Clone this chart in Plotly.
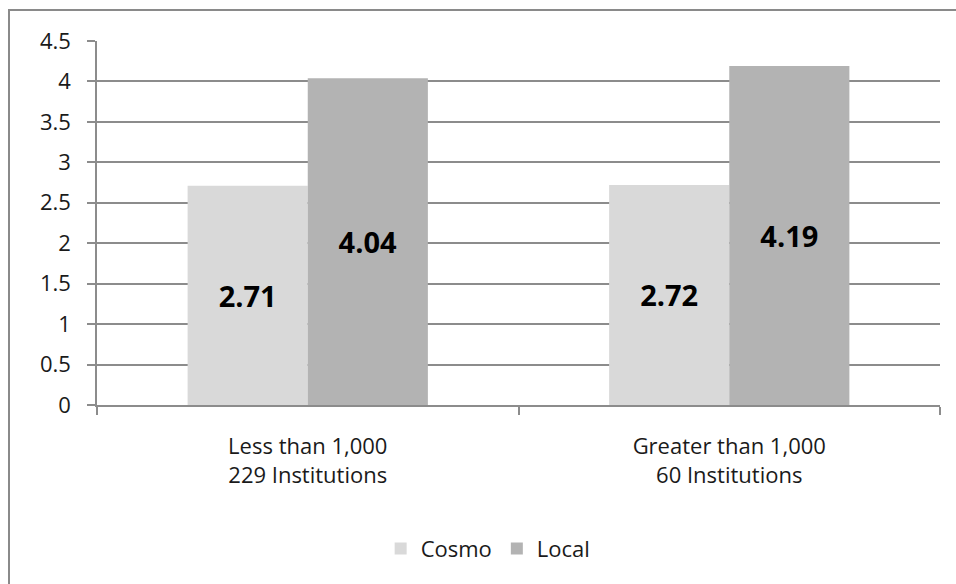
import plotly.graph_objects as go

categories = ["Less than 1,000<br>229 Institutions", "Greater than 1,000<br>60 Institutions"]
cosmo = [2.71, 2.72]
local = [4.04, 4.19]
y_ticks = [0, 0.5, 1, 1.5, 2, 2.5, 3, 3.5, 4, 4.5]
y_tick_text = ["0", "0.5", "1", "1.5", "2", "2.5", "3", "3.5", "4", "4.5"]

FONT = "Open Sans"
TEXT_COLOR = "#1a1a1a"
label_font = dict(family=FONT, size=29, color="black", weight="bold")

fig = go.Figure()
fig.add_trace(go.Bar(
    name="Cosmo", x=categories, y=cosmo, marker=dict(color="#d9d9d9", line_width=0),
    text=[f"{v:.2f}" for v in cosmo], textposition="inside", insidetextanchor="middle",
    textfont=label_font, textangle=0,
))
fig.add_trace(go.Bar(
    name="Local", x=categories, y=local, marker=dict(color="#b3b3b3", line_width=0),
    text=[f"{v:.2f}" for v in local], textposition="inside", insidetextanchor="middle",
    textfont=label_font, textangle=0,
))

fig.update_layout(
    width=956, height=584,
    margin=dict(l=97, r=16, t=41, b=179),
    paper_bgcolor="white", plot_bgcolor="white",
    barmode="group", bargap=0.43, bargroupgap=0,
    font=dict(family=FONT, size=22, color=TEXT_COLOR),
    showlegend=True,
    legend=dict(orientation="h", x=0.464, y=-0.395, xanchor="center", yanchor="middle",
                font=dict(family=FONT, size=22, color=TEXT_COLOR), itemwidth=30,
                traceorder="normal"),
    uniformtext=dict(minsize=8, mode=False),
)
fig.update_yaxes(
    range=[0, 4.5], tickvals=y_ticks, ticktext=y_tick_text,
    showgrid=True, gridcolor="#8c8c8c", gridwidth=1.5,
    showline=True, linecolor="#8c8c8c", linewidth=1.5,
    ticks="outside", ticklen=8, tickcolor="#8c8c8c", tickwidth=1.5,
    ticklabelstandoff=12, zeroline=False,
    tickfont=dict(family=FONT, size=22, color=TEXT_COLOR),
)
fig.update_xaxes(
    showline=True, linecolor="#8c8c8c", linewidth=1.5,
    ticks="outside", ticklen=8, tickcolor="#8c8c8c", tickwidth=1.5,
    tickson="boundaries", ticklabelstandoff=21,
    tickfont=dict(family=FONT, size=22, color=TEXT_COLOR),
)

# outer chart frame
fig.add_shape(type="rect", xref="paper", yref="paper",
              x0=(9 - 97) / 843, x1=(965 - 97) / 843,
              y0=(405 - 595) / 364, y1=(405 - 10) / 364,
              line=dict(color="#8a8a8a", width=2), fillcolor="rgba(0,0,0,0)", layer="above")

fig.write_html("out.html")
